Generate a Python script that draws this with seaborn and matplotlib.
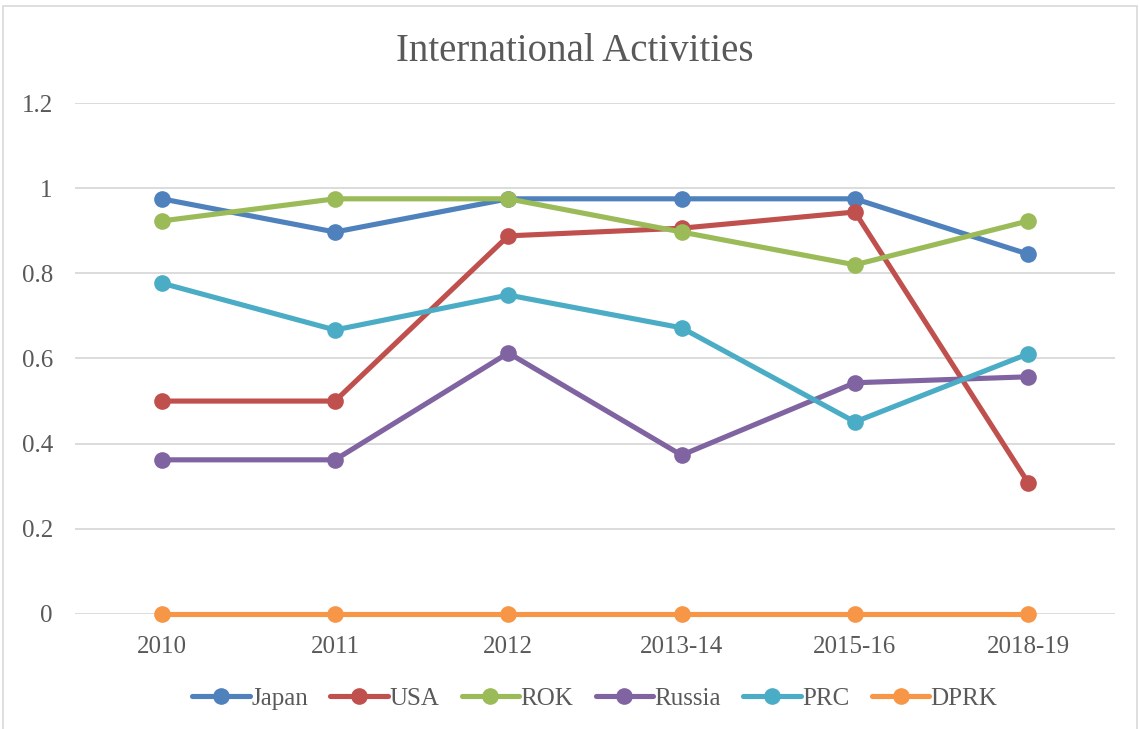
import matplotlib
matplotlib.use("Agg")
import matplotlib.pyplot as plt
import matplotlib.patches as patches
import pandas as pd
import seaborn as sns

# dati
anni = ["2010", "2011", "2012", "2013-14", "2015-16", "2018-19"]
paesi = ["Japan", "USA", "ROK", "Russia", "PRC", "DPRK"]
japan = [0.975, 0.897, 0.975, 0.975, 0.975, 0.845]
usa = [0.500, 0.500, 0.888, 0.906, 0.944, 0.308]
rok = [0.923, 0.975, 0.975, 0.897, 0.820, 0.923]
russia = [0.362, 0.362, 0.613, 0.373, 0.543, 0.557]
prc = [0.777, 0.667, 0.749, 0.672, 0.451, 0.611]
dprk = [0, 0, 0, 0, 0, 0]
colori = ["#4F81BD", "#C0504D", "#9BBB59", "#8064A2", "#4BACC6", "#F79646"]

valori = [japan, usa, rok, russia, prc, dprk]
righe = []
for paese, serie in zip(paesi, valori):
    for anno, v in zip(anni, serie):
        righe.append({"anno": anno, "paese": paese, "valore": v})
df = pd.DataFrame(righe)

sns.set_style("white")
plt.rcParams["font.family"] = ["Liberation Serif", "DejaVu Serif"]
grigio = "#595959"

fig = plt.figure(figsize=(11.4, 7.29), dpi=100)
ax = fig.add_axes([0.0658, 0.1578, 0.9122, 0.7009])

sns.lineplot(data=df, x="anno", y="valore", hue="paese", hue_order=paesi,
             palette=colori, marker="o", markersize=12, markeredgewidth=0,
             linewidth=3.7, sort=False, ax=ax, clip_on=False)

ax.set_xlim(-0.5, 5.5)
ax.set_ylim(0, 1.2)
ax.set_yticks([0, 0.2, 0.4, 0.6, 0.8, 1.0, 1.2])
ax.set_yticklabels(["0", "0.2", "0.4", "0.6", "0.8", "1", "1.2"])
ax.yaxis.grid(True, color="#D9D9D9", linewidth=1.3)
ax.set_axisbelow(True)
for s in ax.spines.values():
    s.set_visible(False)
ax.tick_params(axis="both", length=0, labelsize=18, colors=grigio)
ax.tick_params(axis="x", pad=16)
ax.tick_params(axis="y", pad=16)
ax.set_xlabel("")
ax.set_ylabel("")

fig.text(0.504, 0.929, "International Activities", ha="center", va="center",
         fontsize=28, color=grigio)

handles, labels = ax.get_legend_handles_labels()
for h in handles:
    h.set_markersize(12)
    h.set_linewidth(3.7)
ax.legend(handles, labels, ncol=6, loc="center", bbox_to_anchor=(0.5, -0.165),
          frameon=False, fontsize=18, labelcolor=grigio, handlelength=2.3,
          handletextpad=0.05, columnspacing=0.9)

fig.patches.append(patches.Rectangle((0.003, -0.01), 0.994, 1.002,
                                     transform=fig.transFigure, fill=False,
                                     edgecolor="#D9D9D9", linewidth=1.2))

fig.savefig("out.png", dpi=100)
